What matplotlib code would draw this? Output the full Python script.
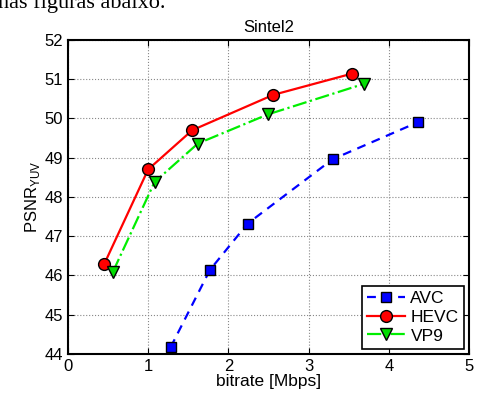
import matplotlib.pyplot as plt

avc_x = [1.28, 1.77, 2.24, 3.30, 4.36]
avc_y = [44.17, 46.14, 47.32, 48.96, 49.90]
hevc_x = [0.45, 1.00, 1.55, 2.56, 3.54]
hevc_y = [46.28, 48.70, 49.70, 50.60, 51.14]
vp9_x = [0.56, 1.08, 1.62, 2.49, 3.69]
vp9_y = [46.09, 48.38, 49.36, 50.10, 50.88]

plt.rcParams['font.family'] = ['Liberation Sans', 'DejaVu Sans']

fig = plt.figure(figsize=(4.82, 3.95), dpi=100)
ax = fig.add_axes([0.141, 0.104, 0.832, 0.795])

ax.plot(avc_x, avc_y, linestyle=(0, (4, 3)), color='blue', linewidth=1.6, marker='s',
        markersize=7.5, markerfacecolor='blue', markeredgecolor='black', label='AVC')
ax.plot(hevc_x, hevc_y, linestyle='-', color='red', linewidth=1.6, marker='o',
        markersize=8.5, markerfacecolor='red', markeredgecolor='black', label='HEVC')
ax.plot(vp9_x, vp9_y, linestyle='-.', color='#00ee00', linewidth=1.6, marker='v',
        markersize=8.5, markerfacecolor='#00dd00', markeredgecolor='black', label='VP9')

ax.set_xlim(0, 5)
ax.set_ylim(44, 52)
ax.set_xticks([0, 1, 2, 3, 4, 5])
ax.set_yticks(range(44, 53))
ax.tick_params(direction='in', labelsize=12, length=4, top=True, right=True)
ax.grid(True, linestyle=':', color='#888888', linewidth=0.8)
for s in ax.spines.values():
    s.set_linewidth(1.5)

ax.set_title('Sintel2', fontsize=12, pad=6)
ax.set_xlabel('bitrate [Mbps]', fontsize=12.5, labelpad=0)
ax.set_ylabel('PSNR$_{\\mathregular{YUV}}$', fontsize=12, labelpad=2)

leg = ax.legend(loc='lower right', fontsize=12.5, fancybox=False, edgecolor='black',
                framealpha=1, handlelength=2.2, borderpad=0.3, labelspacing=0.2,
                handletextpad=0.3, borderaxespad=0.3)
leg.get_frame().set_linewidth(1.2)

fig.text(-0.005, 1 - 8 / 395, 'nas figuras abaixo.', family='Liberation Serif',
         fontsize=16, va='baseline', ha='left')

fig.savefig('out.png', dpi=100)
